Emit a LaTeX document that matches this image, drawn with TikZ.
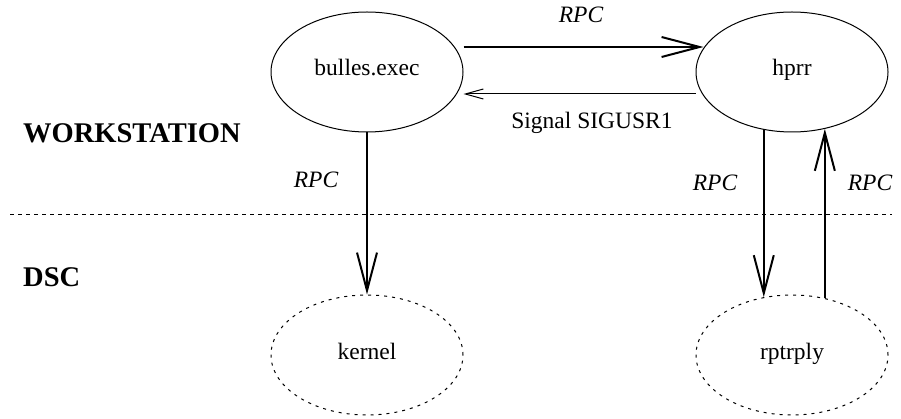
\documentclass[tikz,border=0pt]{standalone}
\usepackage{fontspec}
\setmainfont{Liberation Serif}
\usepackage{tikz}
\usetikzlibrary{shapes}
\usetikzlibrary{positioning,arrows.meta}

\newcommand{\lblfont}{\fontsize{23.5}{28}\selectfont}
\newcommand{\zonefont}{\fontsize{28.5}{32}\selectfont\bfseries}

\begin{document}
\begin{tikzpicture}[x=1pt,y=1pt,
    proc/.style={ellipse, draw, line width=1pt, minimum width=192pt, minimum height=120pt,
      text height=16pt, text depth=8pt, font=\lblfont},
    remote/.style={proc, dash pattern=on 3pt off 5pt},
    heavy/.style={line width=2pt, -{Straight Barb[length=38pt,width=20pt]}},
    light/.style={line width=1pt, -{Straight Barb[length=18pt,width=10pt]}},
    rpc/.style={font=\lblfont\itshape},
    zone/.style={font=\zonefont, anchor=west}]
          \tikzstyle{every node}+=[inner sep=0pt]
          \useasboundingbox (0,0) rectangle (901,-419);
          % processes
          \node [proc] (bulles) at (367,-72) {bulles.exec};
          \node [proc] (hprr) at (792,-72) {hprr};
          \node [remote] (kernel) at (367,-355) {kernel};
          \node [remote] (rptrply) at (792,-355) {rptrply};
          % zones
          \node [zone] (ws) at (23,-133) {WORKSTATION};
          \node [zone] (dsc) at (23,-277) {DSC};
          \coordinate (divl) at (10,-215);
          \coordinate (divr) at (892,-215);
          \draw [line width=1pt, dash pattern=on 4pt off 4pt] (divl) -- (divr);
          % links
          \draw [heavy, shorten >=-8pt] ([yshift=25pt]bulles.east) -- ([yshift=25pt]hprr.west);
          \node [rpc] (rpcsend) at (581,-15) {RPC};
          \draw [light] ([yshift=-22pt]hprr.west) -- ([yshift=-22pt]bulles.east);
          \node [font=\lblfont] (sig) at (592,-123) {Signal SIGUSR1};
          \draw [heavy] (bulles.south) -- (kernel.north);
          \node [rpc] (rpckern) at (316,-180) {RPC};
          \draw [heavy] (hprr.-116.9) -- (rptrply.116.9);
          \node [rpc] (rpcdown) at (715,-183) {RPC};
          \draw [heavy] (rptrply.60.5) -- (hprr.-60.5);
          \node [rpc] (rpcup) at (870,-183) {RPC};
        \end{tikzpicture}
\end{document}
